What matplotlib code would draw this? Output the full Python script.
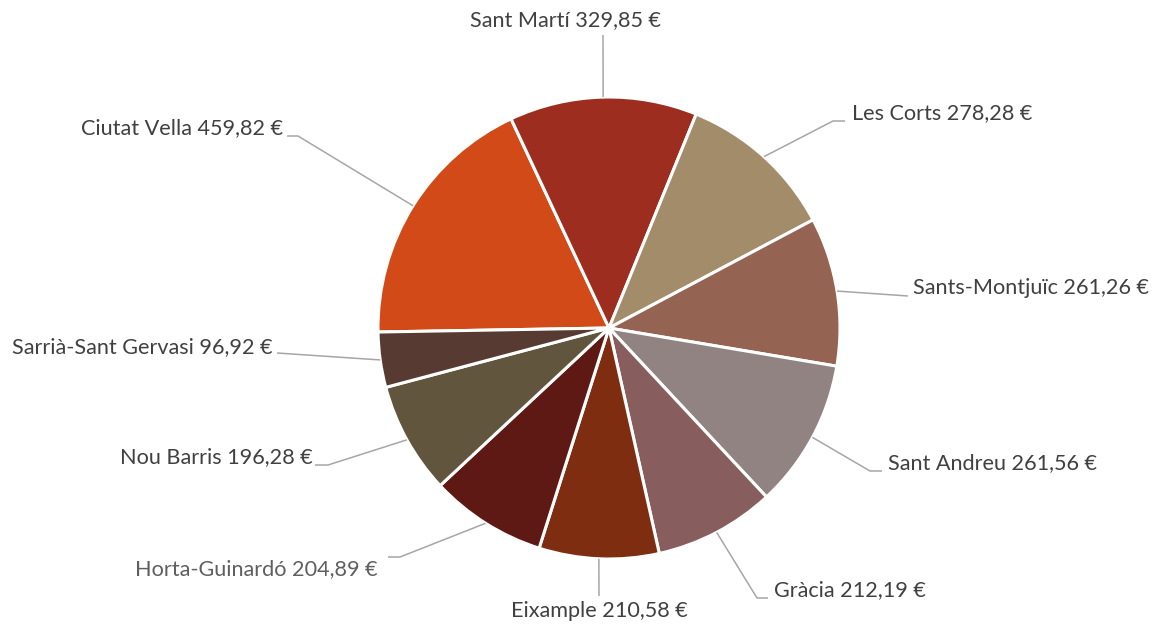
import numpy as np
import matplotlib
matplotlib.use("Agg")
import matplotlib.pyplot as plt

# Districte i import mitjà
districtes = ["Ciutat Vella", "Sant Martí", "Les Corts", "Sants-Montjuïc",
              "Sant Andreu", "Gràcia", "Eixample", "Horta-Guinardó",
              "Nou Barris", "Sarrià-Sant Gervasi"]
imports = [459.82, 329.85, 278.28, 261.26, 261.56, 212.19, 210.58, 204.89,
           196.28, 96.92]
colors = ["#D14A17", "#9C2D1F", "#A38C6A", "#956351", "#918382",
          "#875E5D", "#7E2D11", "#5E1914", "#62553D", "#573B32"]

W, H = 1160, 626
CX, CY, R = 609, 328, 231          # pie centre/radius in pixels (y down)
START = 181                       # first wedge boundary, degrees

# Label anchor (pixel coords, y down): text x, text y, alignment,
# and the leader polyline points after the wedge edge point.
label_layout = {
    "Sant Martí":          dict(tx=565, ty=20,  ha="center", pts=[(603, 35)]),
    "Les Corts":           dict(tx=852, ty=113, ha="left",   pts=[(833, 121), (845, 121)]),
    "Sants-Montjuïc":      dict(tx=913, ty=288, ha="left",   pts=[(908, 296)]),
    "Sant Andreu":         dict(tx=888, ty=463, ha="left",   pts=[(870, 471), (882, 471)]),
    "Gràcia":              dict(tx=774, ty=590, ha="left",   pts=[(757, 598), (768, 598)]),
    "Eixample":            dict(tx=599, ty=611, ha="center", pts=[(599, 596)]),
    "Horta-Guinardó":      dict(tx=378, ty=569, ha="right",  pts=[(400, 557), (388, 557)]),
    "Nou Barris":          dict(tx=313, ty=457, ha="right",  pts=[(328, 465), (315, 465)]),
    "Sarrià-Sant Gervasi": dict(tx=273, ty=347, ha="right",  pts=[(277, 353)]),
    "Ciutat Vella":        dict(tx=283, ty=128, ha="right",  pts=[(298, 136), (287, 136)]),
}

fig = plt.figure(figsize=(W / 100, H / 100), dpi=100)
ax = fig.add_axes([0, 0, 1, 1])

wedges, _ = ax.pie(imports, colors=colors, startangle=START, counterclock=False,
                   center=(CX, H - CY), radius=R,
                   wedgeprops=dict(edgecolor="white", linewidth=2.2))

ax.set_xlim(0, W)
ax.set_ylim(0, H)
ax.set_aspect("equal")
ax.axis("off")

for w, name, val in zip(wedges, districtes, imports):
    mid = np.deg2rad((w.theta1 + w.theta2) / 2)
    ex = CX + R * np.cos(mid)
    ey = (H - CY) + R * np.sin(mid)
    lay = label_layout[name]
    xs = [ex] + [p[0] for p in lay["pts"]]
    ys = [ey] + [H - p[1] for p in lay["pts"]]
    ax.plot(xs, ys, color="#A6A6A6", linewidth=1.1, solid_capstyle="butt")
    txt = f"{name} {val:.2f} €".replace(".", ",")
    col = "#5F5F5F" if name == "Horta-Guinardó" else "#404040"
    ax.text(lay["tx"], H - lay["ty"], txt, ha=lay["ha"], va="center",
            fontsize=15.6, family="Lato", color=col)

fig.savefig("out.png", dpi=100, facecolor="white")
